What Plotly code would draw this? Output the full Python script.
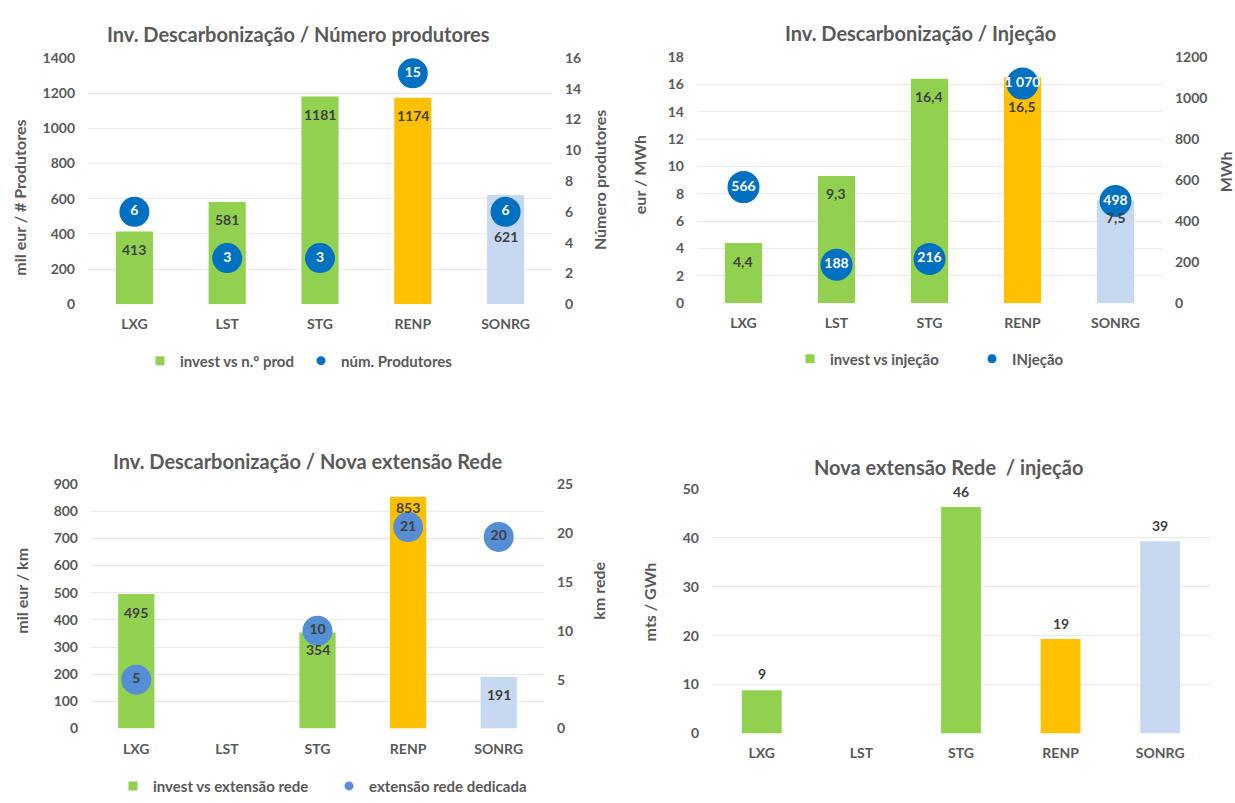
import plotly.graph_objects as go

W, H = 1235, 803
FONT = "Lato"
GRAY = "#595959"
DARK = "#404040"
GRID = "#E9E9E9"

categories = ["LXG", "LST", "STG", "RENP", "SONRG"]

# Panel 1 - Inv. Descarbonização / Número produtores
invest_per_prod = [413, 581, 1181, 1174, 621]
num_produtores = [6, 3, 3, 15, 6]
# Panel 2 - Inv. Descarbonização / Injeção
invest_per_inj = [4.4, 9.3, 16.4, 16.5, 7.5]
injecao_mwh = [566, 188, 216, 1070, 498]
# Panel 3 - Inv. Descarbonização / Nova extensão Rede
invest_per_km = [495, None, 354, 853, 191]
km_rede = [5, None, 10, 20.6, 19.6]
# Panel 4 - Nova extensão Rede / injeção
mts_per_gwh = [8.8, None, 46.3, 19.3, 39.3]

# styles
bar_colors = ["#92D050", "#92D050", "#92D050", "#FFC000", "#C6D9F1"]
dot_dark = "#0070C0"
dot_light = "#558ED5"
shift_p1 = [18, 18, 18, 18, 42]
shift_p2 = [18, 18, 18, 29, 17]
shift_p3 = [18, 0, 17, 11, 18]
shift_p4 = [-17, 0, -16, -16, -16]


def xd(l, r):
    return [l / W, r / W]


def yd(top, bottom):
    return [1 - bottom / H, 1 - top / H]


tickfont = dict(family=FONT, size=14, color=GRAY, weight="bold")

fig = go.Figure()

# ---- bars ----
for vals, xa, ya in [
    (invest_per_prod, "x", "y"),
    (invest_per_inj, "x2", "y3"),
    (invest_per_km, "x3", "y5"),
    (mts_per_gwh, "x4", "y7"),
]:
    fig.add_trace(go.Bar(x=categories, y=vals, marker=dict(color=bar_colors, line=dict(width=0)),
                         width=0.4, xaxis=xa, yaxis=ya, showlegend=False, hoverinfo="x+y"))

# ---- dots ----
fig.add_trace(go.Scatter(x=categories, y=num_produtores, mode="markers+text", xaxis="x", yaxis="y2",
                         marker=dict(size=30, color=dot_dark), texttemplate="%{y}",
                         textposition="middle center",
                         textfont=dict(family=FONT, size=14, color="white", weight="bold"),
                         showlegend=False, cliponaxis=False))
fig.add_trace(go.Scatter(x=categories, y=injecao_mwh, mode="markers+text", xaxis="x2", yaxis="y4",
                         marker=dict(size=32, color=dot_dark), texttemplate="%{y:,.0f}",
                         textposition="middle center",
                         textfont=dict(family=FONT, size=14, color="white", weight="bold"),
                         showlegend=False, cliponaxis=False))
fig.add_trace(go.Scatter(x=categories, y=km_rede, mode="markers+text", xaxis="x3", yaxis="y6",
                         marker=dict(size=30, color=dot_light), texttemplate="%{y:.0f}",
                         textposition="middle center",
                         textfont=dict(family=FONT, size=14, color=DARK, weight="bold"),
                         showlegend=False, cliponaxis=False))

# ---- legend-only entries ----
legend_items = [
    ("invest vs n.º prod", "square", "#92D050", "legend"),
    ("núm. Produtores", "circle", dot_dark, "legend2"),
    ("invest vs injeção", "square", "#92D050", "legend3"),
    ("INjeção", "circle", dot_dark, "legend4"),
    ("invest vs extensão rede", "square", "#92D050", "legend5"),
    ("extensão rede dedicada", "circle", dot_light, "legend6"),
]
for name, sym, col, lg in legend_items:
    fig.add_trace(go.Scatter(x=[None], y=[None], mode="markers", name=name, legend=lg,
                             marker=dict(symbol=sym, size=9, color=col), xaxis="x", yaxis="y"))

leg_pos = {
    "legend": (180, 360), "legend2": (341, 360),
    "legend3": (830, 358), "legend4": (1012, 358),
    "legend5": (153, 795), "legend6": (369, 795),
}
legfont = dict(family=FONT, size=15, color=GRAY, weight="bold")
for lg, (tx, ty) in leg_pos.items():
    fig.update_layout({lg: dict(x=(tx - 40) / W, y=1 - ty / H, xanchor="left", yanchor="middle",
                                orientation="h", font=legfont, bgcolor="rgba(0,0,0,0)",
                                borderwidth=0, itemclick=False, itemdoubleclick=False)})

# ---- annotations: bar labels ----
ann = []


def bar_labels(xa, ya, values, shifts, fmt):
    for c, v, s in zip(categories, values, shifts):
        if v is None:
            continue
        ann.append(dict(x=c, y=v, xref=xa, yref=ya, text=fmt(v), yshift=-s, showarrow=False,
                        font=dict(family=FONT, size=14, color=DARK, weight="bold")))


bar_labels("x", "y", invest_per_prod, shift_p1, lambda v: f"{v:.0f}")
bar_labels("x2", "y3", invest_per_inj, shift_p2, lambda v: f"{v:.1f}".replace(".", ","))
bar_labels("x3", "y5", invest_per_km, shift_p3, lambda v: f"{v:.0f}")
bar_labels("x4", "y7", mts_per_gwh, shift_p4, lambda v: f"{v:.0f}")

# ---- titles ----
titles = [
    ("Inv. Descarbonização / Número produtores", 298, 26),
    ("Inv. Descarbonização / Injeção", 920, 25),
    ("Inv. Descarbonização / Nova extensão Rede", 307, 462),
    ("Nova extensão Rede  / injeção", 949, 468),
]
for t, cx, cy in titles:
    ann.append(dict(text=t, x=cx / W, y=1 - cy / H, xref="paper", yref="paper", showarrow=False,
                    xanchor="center", yanchor="middle",
                    font=dict(family=FONT, size=20, color=GRAY, weight="bold")))

axis_titles = [
    ("mil eur / # Produtores", 20, 193),
    ("Número produtores", 599, 175),
    ("eur / MWh", 639, 170),
    ("MWh", 1225, 167),
    ("mil eur / km", 22, 595),
    ("km rede", 599, 595),
    ("mts / GWh", 649, 607),
]
for t, cx, cy in axis_titles:
    ann.append(dict(text=t, x=cx / W, y=1 - cy / H, xref="paper", yref="paper", showarrow=False,
                    xanchor="center", yanchor="middle", textangle=-90,
                    font=dict(family=FONT, size=16, color=GRAY, weight="bold")))

# ---- axes ----
def xaxis(l, r, anchor):
    return dict(domain=xd(l, r), anchor=anchor, type="category", categoryorder="array",
                categoryarray=categories, showgrid=False, showline=False, zeroline=False,
                ticks="", tickfont=tickfont, ticklabelstandoff=10, fixedrange=True)


def yaxis(top, bottom, anchor, rng, dtick, grid=True, side="left", overlaying=None):
    d = dict(domain=yd(top, bottom), anchor=anchor, range=rng, dtick=dtick, side=side,
             showgrid=grid, gridcolor=GRID, gridwidth=1, zeroline=False, showline=False,
             ticks="", tickfont=tickfont, ticklabelstandoff=12, fixedrange=True)
    if overlaying:
        d["overlaying"] = overlaying
    return d


fig.update_layout(
    width=W, height=H, margin=dict(l=0, r=0, t=0, b=0),
    paper_bgcolor="white", plot_bgcolor="white",
    separators=", ",
    font=dict(family=FONT, color=GRAY),
    xaxis=xaxis(88, 552, "y"),
    yaxis=yaxis(50, 302, "x", [0, 1400], 200),
    yaxis2=yaxis(50, 302, "x", [0, 16], 2, grid=False, side="right", overlaying="y"),
    xaxis2=xaxis(697, 1162, "y3"),
    yaxis3=yaxis(49, 301, "x2", [0, 18], 2),
    yaxis4=yaxis(49, 301, "x2", [0, 1200], 200, grid=False, side="right", overlaying="y3"),
    xaxis3=xaxis(91, 544, "y5"),
    yaxis5=yaxis(486, 736, "x3", [0, 900], 100),
    yaxis6=yaxis(486, 736, "x3", [0, 25], 5, grid=False, side="right", overlaying="y5"),
    xaxis4=xaxis(712, 1210, "y7"),
    yaxis7=yaxis(491, 741, "x4", [0, 50], 10),
    annotations=ann,
)

fig.write_html("out.html")
